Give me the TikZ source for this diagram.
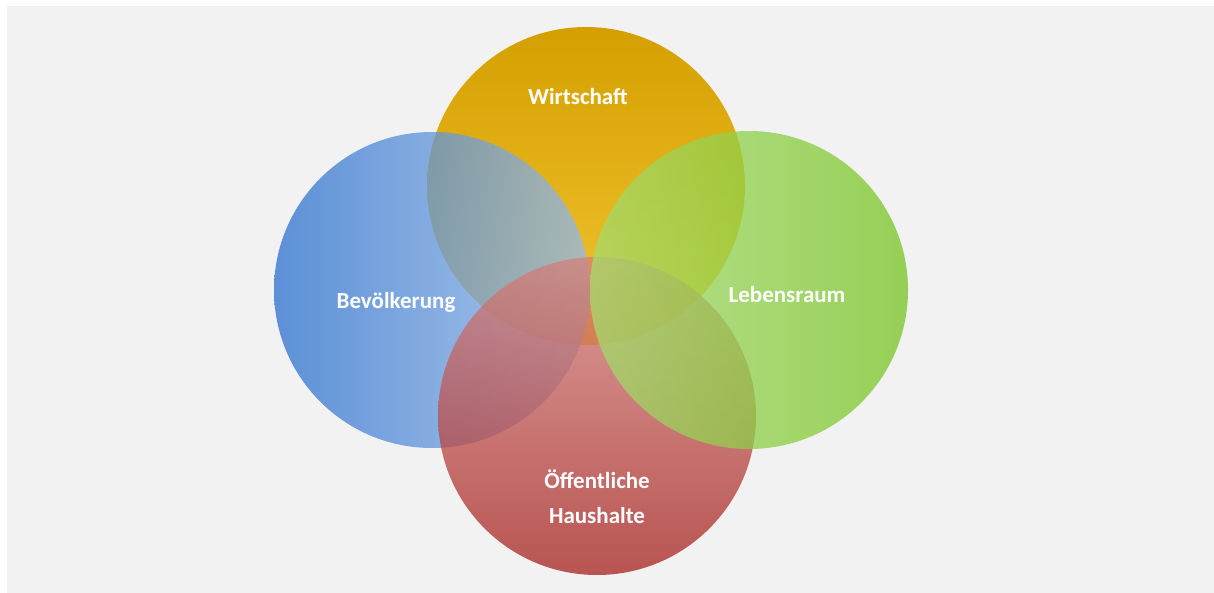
\documentclass[tikz,border=0pt]{standalone}
\usepackage{fontspec}
\setmainfont{Carlito}
\usetikzlibrary{positioning}

\definecolor{bgGray}{RGB}{242,242,242}
\definecolor{goldTop}{RGB}{212,160,0}
\definecolor{goldBot}{RGB}{243,197,52}
\definecolor{blueL}{RGB}{40,110,205}
\definecolor{blueR}{RGB}{150,186,235}
\definecolor{greenL}{RGB}{165,220,110}
\definecolor{greenR}{RGB}{118,196,32}
\definecolor{redT}{RGB}{212,128,124}
\definecolor{redB}{RGB}{165,30,26}

\begin{document}
\begin{tikzpicture}[x=1pt,y=-1pt,
	ring/.style={fill opacity=0.74},
	lbl/.style={text=white,font=\fontsize{23}{35}\selectfont\bfseries,align=center}]
	\useasboundingbox (0,0) rectangle (1214,593);
	\fill[bgGray] (7,6) rectangle (1214,593);

	% the four circles, back to front
	\shade[top color=goldTop,bottom color=goldBot] (586,186) circle[radius=159pt];
	\shade[ring,left color=blueL,right color=blueR] (432,290) circle[radius=158pt];
	\shade[ring,top color=redT,bottom color=redB] (597,416) circle[radius=159pt];
	\shade[ring,left color=greenL,right color=greenR] (749,290) circle[radius=159pt];

	% labels
	\node[lbl] (wirt) at (578,97) {Wirtschaft};
	\node[lbl] (bev) at (396,302) {Bevölkerung};
	\node[lbl] (leb) at (787,295) {Lebensraum};
	\node[lbl] (haus) at (597,497) {Öffentliche\\Haushalte};
\end{tikzpicture}
\end{document}
